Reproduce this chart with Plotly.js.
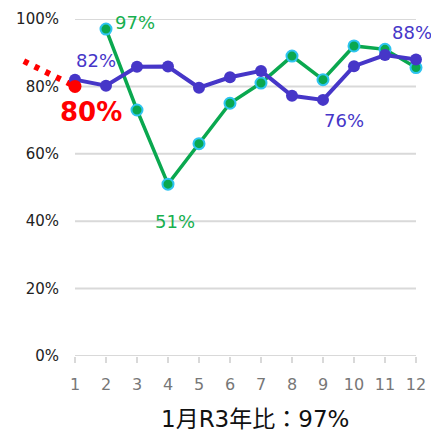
<!DOCTYPE html>
<html><head><meta charset="utf-8">
<script src="https://cdn.plot.ly/plotly-3.0.1.min.js"></script>
<style>body{margin:0;background:#fff}#c{width:431px;height:433px}</style>
</head><body><div id="c"></div>
<script>
const months = [1,2,3,4,5,6,7,8,9,10,11,12];
const monthLabels = ['1','2','3','4','5','6','7','8','9','10','11','12'];
const blueVals = [82, 80.2, 85.8, 85.9, 79.6, 82.7, 84.6, 77.2, 76, 86, 89.3, 88];
const greenVals = [null, 97, 73, 51, 63, 75, 81, 89, 82, 92, 91, 85.6];
const redX = [-0.65, 1];
const redY = [87.5, 80];
const yTicks = [0, 20, 40, 60, 80, 100];
const yTickLabels = ['0%','20%','40%','60%','80%','100%'];
const titleText = '1月R3年比：97%';

const FONT = '"DejaVu Sans", "Noto Sans CJK JP", sans-serif';
const BLUE = '#4636c8', GREEN = '#0aa84f', CYAN = '#2ec4f0', RED = '#ff0000';

const shapes = yTicks.map(v => ({
  type:'line', xref:'x', yref:'y', x0: months[0], x1: months[months.length-1], y0: v, y1: v,
  line:{color:'#d9d9d9', width:2}, layer:'below'
}));

const traces = [
  {x: redX, y: redY, mode:'lines', cliponaxis:false,
   line:{color:RED, width:6, dash:'5px,7px'}},
  {x: months, y: greenVals, mode:'lines+markers', cliponaxis:false,
   line:{color:GREEN, width:3.5}, marker:{size:11, color:GREEN, line:{color:CYAN, width:2}}},
  {x: months, y: blueVals, mode:'lines+markers', cliponaxis:false,
   line:{color:BLUE, width:4}, marker:{size:12, color:BLUE}},
  {x: [redX[1]], y: [redY[1]], mode:'markers', cliponaxis:false,
   marker:{size:13, color:RED}}
];

const fmt = v => Math.round(v) + '%';
const annotations = [
  {x:2.94, y:99.1, text: fmt(greenVals[1]), font:{size:18, color:'#17b04f', family:FONT}},
  {x:1.68, y:87.8, text: fmt(blueVals[0]), font:{size:18, color:BLUE, family:FONT}},
  {x:1.52, y:72.4, text: fmt(redY[1]), font:{size:26, color:RED, family:FONT, weight:'bold'}},
  {x:4.23, y:39.8, text: fmt(greenVals[3]), font:{size:18, color:'#17b04f', family:FONT}},
  {x:9.68, y:70.0, text: fmt(blueVals[8]), font:{size:18, color:BLUE, family:FONT}},
  {x:11.88, y:96.0, text: fmt(blueVals[11]), font:{size:18, color:BLUE, family:FONT}}
].map(a => Object.assign({xref:'x', yref:'y', showarrow:false, xanchor:'center', yanchor:'middle'}, a));
annotations.push({xref:'paper', yref:'paper', x:255/431, y:(356-419)/337, showarrow:false,
  xanchor:'center', yanchor:'middle', text:titleText, font:{size:23, color:'#111', family:FONT}});

const layout = {
  width:431, height:433, showlegend:false,
  margin:{l:0, r:0, t:19, b:77},
  paper_bgcolor:'#fff', plot_bgcolor:'#fff',
  xaxis:{range:[-1.419, 12.484], showgrid:false, zeroline:false, showline:false,
    tickvals: months, ticktext: monthLabels, ticks:'outside', ticklen:6, tickwidth:2, tickcolor:'#d9d9d9',
    ticklabelstandoff:8, tickfont:{size:16, color:'#777', family:FONT}},
  yaxis:{range:[0,100], anchor:'free', position:75/431, showgrid:false, zeroline:false, showline:false,
    tickvals: yTicks, ticktext: yTickLabels, ticks:'', ticklabelstandoff:16,
    tickfont:{size:15, color:'#222', family:FONT}},
  shapes, annotations
};
Plotly.newPlot('c', traces, layout, {displayModeBar:false, staticPlot:true});
</script></body></html>
